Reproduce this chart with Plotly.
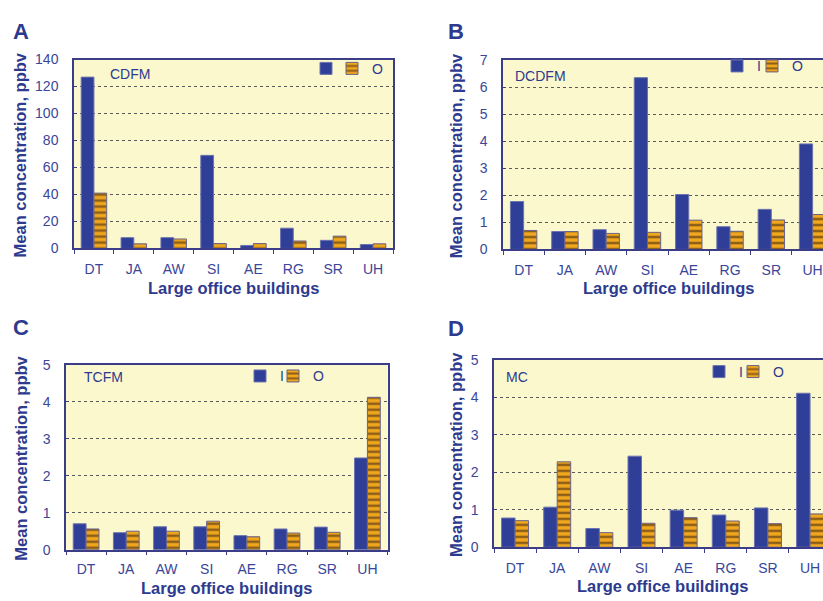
import plotly.graph_objects as go

W, H = 823, 601

buildings = ["DT", "JA", "AW", "SI", "AE", "RG", "SR", "UH"]

cdfm_in = [127, 8, 8, 69, 2.2, 15, 6, 2.9]
cdfm_out = [41, 3.4, 7, 3.6, 3.6, 5.5, 9.1, 3.4]

dcdfm_in = [1.77, 0.66, 0.73, 6.35, 2.03, 0.84, 1.48, 3.9]
dcdfm_out = [0.70, 0.66, 0.59, 0.63, 1.08, 0.67, 1.09, 1.29]

tcfm_in = [0.70, 0.46, 0.62, 0.62, 0.38, 0.56, 0.61, 2.48]
tcfm_out = [0.56, 0.50, 0.50, 0.77, 0.35, 0.45, 0.47, 4.12]

mc_in = [0.78, 1.07, 0.50, 2.43, 0.99, 0.86, 1.05, 4.11]
mc_out = [0.71, 2.28, 0.39, 0.64, 0.79, 0.70, 0.63, 0.89]

panels = [
    dict(letter="A", name="CDFM", i=cdfm_in, o=cdfm_out, ymax=140, dtick=20,
         px=(74, 393), py=(53, 247), ncat=8.0, full=True),
    dict(letter="B", name="DCDFM", i=dcdfm_in, o=dcdfm_out, ymax=7, dtick=1,
         px=(503, 823), py=(53.5, 248), ncat=7.752, full=False),
    dict(letter="C", name="TCFM", i=tcfm_in, o=tcfm_out, ymax=5, dtick=1,
         px=(66, 387.5), py=(366.5, 556.5), ncat=8.0, full=True),
    dict(letter="D", name="MC", i=mc_in, o=mc_out, ymax=5, dtick=1,
         px=(494, 823), py=(361.5, 554), ncat=7.807, full=False),
]

blue_txt = "#2D3A8E"
tick_col = "#3A4699"
bar_blue = "#2F3E97"
frame_col = "#3B3E86"
bg = "#FCF8CE"
font_fam = "Liberation Sans, Arial, sans-serif"

swatch_pos = [(320, 346, 67), (731, 766, 64.5), (254, 287, 383), (713, 747, 378.5)]
label_pos = [(129.5, 68), (540, 69.5), (103, 379.5), (517, 379.5)]
letter_pos = [(20.5, 24), (455.5, 24.5), (20.5, 328), (455.5, 329.5)]
ytitle_x = [20, 456, 21, 456]
xtitle_y = [288, 288, 595.5, 594]
xtick_pad = [7, 7, 6, 7]

fig = go.Figure()
layout = dict(
    width=W, height=H, margin=dict(l=0, r=0, t=0, b=0),
    paper_bgcolor="white", plot_bgcolor=bg,
    barmode="group", bargap=0.36, bargroupgap=0.0,
    font=dict(family=font_fam, color=blue_txt, size=14),
    annotations=[],
)

for k, p in enumerate(panels):
    n = "" if k == 0 else str(k + 1)
    xa, ya = "x" + n, "y" + n
    lgi = "legend" + str(2 * k + 2)
    lgo = "legend" + str(2 * k + 3)
    fig.add_trace(go.Bar(
        x=buildings, y=p["i"], name="I", xaxis=xa, yaxis=ya, legend=lgi,
        marker=dict(color=bar_blue, line=dict(color="#6D74B0", width=1)),
    ))
    fig.add_trace(go.Bar(
        x=buildings, y=p["o"], name="O", xaxis=xa, yaxis=ya, legend=lgo,
        marker=dict(color="#F0A41E", line=dict(color="#6A6488", width=1),
                    pattern=dict(shape="-", size=6, solidity=0.42,
                                 fgcolor="#8C5E18", bgcolor="#F2A81E",
                                 fillmode="replace")),
    ))
    x0, x1 = p["px"]
    y0, y1 = p["py"]
    layout["xaxis" + n] = dict(
        domain=[x0 / W, x1 / W], anchor=ya,
        type="category", range=[-0.5, -0.5 + p["ncat"]],
        tickson="boundaries", ticks="outside", ticklen=4, tickwidth=1,
        tickcolor=frame_col,
        showline=True, linecolor=frame_col, linewidth=1.5, mirror=True,
        showgrid=False, tickfont=dict(size=14, color=tick_col),
        ticklabelstandoff=xtick_pad[k], fixedrange=True,
    )
    layout["yaxis" + n] = dict(
        domain=[1 - y1 / H, 1 - y0 / H], anchor=xa,
        range=[0, p["ymax"]], dtick=p["dtick"], tick0=0,
        ticks="inside", ticklen=3, tickcolor=frame_col,
        showline=True, linecolor=frame_col, linewidth=1.5,
        mirror=p["full"],
        showgrid=True, gridcolor="#5A5A5A", griddash="dot", gridwidth=1,
        zeroline=False, tickfont=dict(size=14, color=tick_col),
        ticklabelstandoff=11, fixedrange=True,
    )
    il, ol, cy = swatch_pos[k]
    for lg, left in ((lgi, il), (lgo, ol)):
        layout[lg] = dict(
            x=(left - 14) / W, y=1 - (cy - 21) / H, xanchor="left", yanchor="top",
            orientation="h", bgcolor="rgba(0,0,0,0)", borderwidth=0,
            font=dict(size=14, color=blue_txt), itemwidth=30,
        )
    ax, ay = label_pos[k]
    layout["annotations"].append(dict(
        text=p["name"], x=ax / W, y=1 - ay / H, xref="paper", yref="paper",
        xanchor="center", yanchor="middle",
        showarrow=False, font=dict(size=14, color=blue_txt),
    ))
    lx2, ly2 = letter_pos[k]
    layout["annotations"].append(dict(
        text="<b>" + p["letter"] + "</b>", x=lx2 / W, y=1 - ly2 / H,
        xref="paper", yref="paper", showarrow=False,
        xanchor="center", yanchor="middle",
        font=dict(size=22, color=blue_txt),
    ))
    layout["annotations"].append(dict(
        text="<b>Mean concentration, ppbv</b>", x=ytitle_x[k] / W,
        y=1 - ((y0 + y1) / 2 + 1.5) / H, xref="paper", yref="paper",
        xanchor="center", yanchor="middle",
        showarrow=False, textangle=-90, font=dict(size=16.5, color=blue_txt),
    ))
    full_w = (x1 - x0) * 8 / p["ncat"]
    layout["annotations"].append(dict(
        text="<b>Large office buildings</b>",
        x=(x0 + full_w / 2) / W,
        y=1 - xtitle_y[k] / H, xref="paper", yref="paper",
        xanchor="center", yanchor="middle",
        showarrow=False, font=dict(size=16.5, color=blue_txt),
    ))

fig.update_layout(**layout)
fig.write_html(
    "out.html",
    config={"displayModeBar": False},
    post_script=(
        "document.documentElement.style.margin='0';"
        "document.body.style.margin='0';"
        "document.body.style.overflow='hidden';"
    ),
)
